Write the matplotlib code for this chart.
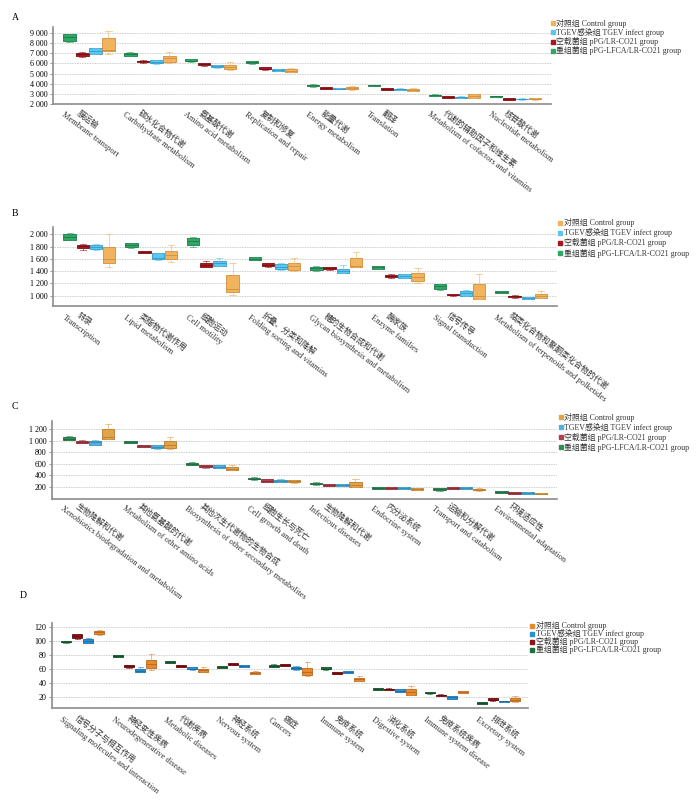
import matplotlib.pyplot as plt
from matplotlib.lines import Line2D

plt.rcParams['font.family'] = ['Liberation Serif', 'Noto Sans CJK SC']

# legend names (order as drawn: green, red, blue, orange)
group_names = ['重组菌组 pPG-LFCA/LR-CO21 group', '空载菌组 pPG/LR-CO21 group',
               'TGEV感染组 TGEV infect group', '对照组 Control group']

# ---- Panel A ----  each entry: (whisker low, q1, median, q3, whisker high)
a_cn = ['膜运输', '碳水化合物代谢', '氨基酸代谢', '复制和修复', '能量代谢', '翻译', '代谢的辅助因子和维生素', '核苷酸代谢']
a_en = ['Membrane transport', 'Carbohydrate metabolism', 'Amino acid metabolism', 'Replication and repair',
        'Energy metabolism', 'Translation', 'Metabolism of cofactors and vitamins', 'Nucleotide metabolism']
a_green = [(8150, 8200, 8550, 8850, 8900), (6700, 6750, 6900, 7050, 7100), (6150, 6200, 6280, 6400, 6450),
           (5950, 6010, 6100, 6200, 6250), (3720, 3760, 3850, 3920, 3950), (3780, 3800, 3850, 3900, 3930),
           (2820, 2840, 2880, 2940, 2960), (2690, 2710, 2770, 2840, 2860)]
a_red = [(6600, 6750, 6900, 7050, 7100), (6080, 6110, 6200, 6265, 6300), (5780, 5815, 5900, 6010, 6050),
         (5380, 5420, 5500, 5620, 5650), (3450, 3470, 3560, 3660, 3680), (3400, 3430, 3500, 3600, 3620),
         (2600, 2620, 2700, 2810, 2830), (2400, 2420, 2500, 2620, 2640)]
a_blue = [(6880, 6920, 7200, 7480, 7520), (5980, 6010, 6150, 6330, 6360), (5600, 5620, 5720, 5840, 5870),
          (5270, 5290, 5380, 5480, 5500), (3450, 3470, 3540, 3620, 3640), (3380, 3400, 3460, 3530, 3550),
          (2600, 2620, 2690, 2750, 2770), (2460, 2480, 2510, 2550, 2570)]
a_orange = [(6950, 7240, 7320, 8480, 9200), (6000, 6170, 6550, 6750, 7085), (5350, 5450, 5650, 5870, 6140),
            (5120, 5160, 5300, 5450, 5550), (3430, 3470, 3580, 3700, 3760), (3330, 3350, 3430, 3530, 3560),
            (2600, 2620, 2800, 2980, 3050), (2460, 2480, 2540, 2620, 2650)]
a_ticks = [2000, 3000, 4000, 5000, 6000, 7000, 8000, 9000]

# ---- Panel B ----
b_cn = ['转录', '类脂物代谢作用', '细胞运动', '折叠、分类和降解', '糖的生物合成和代谢', '酶家族', '信号传导',
        '萜类化合物和聚酮类化合物的代谢']
b_en = ['Transcription', 'Lipid metabolism', 'Cell motility', 'Folding sorting and vitamins',
        'Glycan biosynthesis and metabolism', 'Enzyme families', 'Signal transduction',
        'Metabolism of terpenoids and polketides']
b_green = [(1900, 1910, 1960, 2010, 2025), (1780, 1790, 1820, 1856, 1865), (1800, 1834, 1890, 1945, 1960),
           (1580, 1586, 1605, 1624, 1630), (1400, 1420, 1450, 1475, 1485), (1430, 1440, 1460, 1480, 1490),
           (1100, 1117, 1150, 1183, 1190), (1040, 1044, 1060, 1072, 1078)]
b_red = [(1745, 1773, 1810, 1834, 1845), (1690, 1697, 1710, 1723, 1730), (1460, 1475, 1500, 1541, 1560),
         (1470, 1481, 1500, 1525, 1530), (1425, 1431, 1445, 1465, 1470), (1295, 1304, 1320, 1342, 1350),
         (1000, 1006, 1017, 1028, 1035), (970, 978, 990, 1001, 1005)]
b_blue = [(1740, 1757, 1790, 1834, 1840), (1590, 1597, 1620, 1690, 1700), (1480, 1486, 1530, 1569, 1610),
          (1420, 1431, 1470, 1514, 1525), (1370, 1376, 1410, 1442, 1498), (1285, 1290, 1320, 1347, 1355),
          (995, 1001, 1040, 1084, 1090), (945, 951, 965, 978, 985)]
b_orange = [(1470, 1525, 1597, 1790, 2000), (1545, 1597, 1669, 1735, 1834), (1017, 1061, 1117, 1342, 1541),
            (1400, 1415, 1480, 1541, 1608), (1460, 1470, 1486, 1614, 1707), (1210, 1238, 1310, 1376, 1458),
            (940, 944, 1000, 1195, 1348), (955, 962, 1000, 1028, 1084)]
b_ticks = [1000, 1200, 1400, 1600, 1800, 2000]

# ---- Panel C ----
c_cn = ['生物降解和代谢', '其他氨基酸的代谢', '其他次生代谢物的生物合成', '细胞生长与死亡', '生物降解和代谢',
        '内分泌系统', '运输和分解代谢', '环境适应性']
c_en = ['Xenobiotics biodegradation and metabolism', 'Metabolism of other amino acids',
        'Biosynthesis of other secondary metabolites', 'Cell growth and death', 'Infectious diseases',
        'Endocrine system', 'Transport and catabolism', 'Environmental adaptation']
c_green = [(1010, 1015, 1040, 1067, 1084), (960, 969, 985, 998, 1003), (580, 587, 605, 622, 628),
           (328, 333, 345, 362, 367), (240, 246, 260, 275, 280), (165, 171, 185, 200, 205),
           (137, 142, 160, 177, 182), (97, 102, 115, 131, 135)]
c_red = [(955, 963, 985, 1003, 1010), (895, 900, 915, 928, 933), (535, 541, 560, 576, 580),
         (288, 293, 310, 333, 340), (212, 217, 235, 246, 250), (166, 171, 185, 200, 204),
         (160, 165, 180, 195, 200), (75, 79, 95, 108, 112)]
c_blue = [(925, 934, 975, 1003, 1010), (862, 870, 900, 928, 935), (530, 535, 555, 576, 580),
          (288, 293, 310, 327, 332), (215, 220, 240, 252, 256), (166, 171, 185, 200, 204),
          (160, 165, 180, 195, 200), (75, 80, 95, 110, 114)]
c_orange = [(1030, 1038, 1060, 1200, 1287), (853, 870, 935, 992, 1073), (490, 495, 520, 547, 582),
            (276, 281, 300, 316, 320), (200, 206, 240, 287, 333), (144, 148, 165, 183, 187),
            (138, 142, 155, 171, 175), (70, 73, 85, 96, 100)]
c_ticks = [200, 400, 600, 800, 1000, 1200]

# ---- Panel D ----
d_cn = ['信号分子与相互作用', '神经变性疾病', '代谢疾病', '神经系统', '癌症', '免疫系统', '消化系统',
        '免疫系统疾病', '排泄系统']
d_en = ['Signaling molecules and interaction', 'Neurodegenerative disease', 'Metabolic diseases',
        'Nervous system', 'Cancers', 'Immune system', 'Digestive system', 'Immune system disease',
        'Excretory system']
d_green = [(98, 98.5, 99.5, 100.4, 101), (77.5, 77.9, 79, 80.3, 80.8), (69, 69.3, 71, 72.1, 72.5),
           (61.2, 61.6, 63, 64.5, 65), (63, 63.5, 65, 66.4, 67), (59.3, 59.7, 61, 62.6, 63),
           (30.2, 30.5, 31.8, 32.9, 33.3), (25, 25.3, 26.5, 27.6, 28), (10, 10.4, 11.6, 12.9, 13.3)]
d_red = [(104, 105.6, 108, 110.4, 111), (62.2, 62.6, 64, 65.5, 66), (62.6, 63, 65, 66.4, 66.8),
         (66, 66.4, 67.5, 68.8, 69.2), (64, 64.5, 66, 67.4, 67.8), (52.6, 53, 54.5, 56.4, 56.8),
         (30.2, 30.5, 31.5, 32.4, 32.8), (21, 21.4, 22.5, 23.8, 24.2), (15, 15.3, 16.5, 18.3, 18.8)]
d_blue = [(97.5, 98, 100.9, 102.8, 105), (55.5, 55.9, 58, 61.1, 63), (59.3, 59.7, 61, 62.6, 63),
          (62.6, 63, 64.5, 66.4, 66.8), (59.3, 59.7, 61.5, 63.5, 64), (54.5, 54.9, 56, 57.3, 57.7),
          (26.8, 27.2, 29, 31, 31.4), (17.6, 18, 20, 21.4, 21.8), (13.4, 13.7, 14.2, 14.7, 15)]
d_orange = [(109.5, 110, 112.8, 115.2, 116.2), (58.8, 62.1, 67.4, 73.1, 81.7), (56.4, 56.8, 59, 61.1, 63),
            (53.1, 53.5, 55, 56.8, 57.2), (50.6, 51.6, 56.4, 62.1, 70.7), (42.6, 43, 45.5, 48.2, 50.1),
            (22.9, 23.8, 28, 32, 36.3), (25.8, 26.2, 27.5, 28.6, 29), (13.5, 14, 16, 18.8, 21)]
d_ticks = [20, 40, 60, 80, 100, 120]

# colours per panel: (fill, edge) for green, red, blue, orange
pal_ab = [('#2fa867', '#1d7a47'), ('#a8171d', '#7a0f14'), ('#5cc6ef', '#2f9ccb'), ('#f2b35f', '#d08e3c')]
pal_c = [('#2e8b57', '#1f6a40'), ('#b0404c', '#8a2a34'), ('#52b0dc', '#2f8cbb'), ('#e3a349', '#b97a2a')]
pal_d = [('#1f6f3d', '#134a28'), ('#8e1417', '#5e0b0d'), ('#2a8fd3', '#1a6ca6'), ('#e8892d', '#b8661b')]
offsets = [-0.32, -0.107, 0.107, 0.32]
ROT = -37


def fmt(v):
    return f'{v:,}'.replace(',', ' ')


def draw_panel(rect, letter, letter_xy, cn, en, series, pal, ylim, ticks, xmax, leg_xy, leg_step, lab_drop):
    ax = fig.add_axes(rect)
    ax.patch.set_alpha(0)
    for i, (data, (fc, ec)) in enumerate(zip(series, pal)):
        stats = [dict(whislo=s[0], q1=s[1], med=s[2], q3=s[3], whishi=s[4], fliers=[]) for s in data]
        pos = [k + offsets[i] for k in range(len(data))]
        ax.bxp(stats, positions=pos, widths=0.2, patch_artist=True, showfliers=False,
               boxprops=dict(facecolor=fc, edgecolor=ec, linewidth=0.6),
               medianprops=dict(color=ec, linewidth=0.6),
               whiskerprops=dict(color=fc, linewidth=0.6, alpha=0.7),
               capprops=dict(color=fc, linewidth=0.6, alpha=0.7),
               manage_ticks=False, zorder=3)
    ax.set_xlim(-0.59, xmax)
    ax.set_ylim(*ylim)
    ax.set_yticks(ticks)
    ax.set_yticklabels([fmt(t) for t in ticks], fontsize=5.8)
    ax.set_xticks([])
    ax.grid(axis='y', color='#bbbbbb', linestyle=(0, (1, 1)), linewidth=0.6, zorder=0)
    for s in ['top', 'right']:
        ax.spines[s].set_visible(False)
    for s in ['left', 'bottom']:
        ax.spines[s].set_color('#8c8c8c')
        ax.spines[s].set_linewidth(1.2)
    ax.tick_params(axis='y', length=2, width=0.6, color='#8c8c8c', pad=2)
    # two-line rotated category labels: english line, chinese line above-right of it
    for k in range(len(en)):
        ax.annotate(en[k], xy=(k - 0.45, ylim[0]), xycoords='data', xytext=(0, -lab_drop),
                    textcoords='offset points', rotation=ROT, rotation_mode='anchor',
                    ha='left', va='baseline', fontsize=6, color='#333333', annotation_clip=False)
        ax.annotate(cn[k], xy=(k - 0.45, ylim[0]), xycoords='data', xytext=(10.7, -lab_drop + 1.0),
                    textcoords='offset points', rotation=ROT, rotation_mode='anchor',
                    ha='left', va='baseline', fontsize=5.9, color='#333333', annotation_clip=False)
    fig.text(letter_xy[0] / 700, 1 - letter_xy[1] / 811, letter, fontsize=7, ha='left', va='center')
    # legend
    for n, j in enumerate([3, 2, 1, 0]):
        y = 1 - (leg_xy[1] + n * leg_step) / 811
        fig.add_artist(Line2D([leg_xy[0] / 700], [y], marker='s', color=pal[j][0], ls='none',
                              markersize=2.2, transform=fig.transFigure))
        fig.text((leg_xy[0] + 3.5) / 700, y, group_names[j], fontsize=5.7, color='#333333',
                 ha='left', va='center')
    return ax


fig = plt.figure(figsize=(7, 8.11), dpi=100)

draw_panel([53 / 700, 1 - 104.3 / 811, 498 / 700, 77.6 / 811], 'A', (12, 18), a_cn, a_en,
           [a_green, a_red, a_blue, a_orange], pal_ab, (2000, 9600), a_ticks, 7.58, (553, 23), 9.3, 8.0)
draw_panel([53 / 700, 1 - 305.5 / 811, 504 / 700, 78.5 / 811], 'B', (12, 213), b_cn, b_en,
           [b_green, b_red, b_blue, b_orange], pal_ab, (840, 2120), b_ticks, 7.58, (560, 222.7), 10.1, 9.0)
draw_panel([52 / 700, 1 - 498.5 / 811, 505 / 700, 77.5 / 811], 'C', (12, 406), c_cn, c_en,
           [c_green, c_red, c_blue, c_orange], pal_c, (0, 1345), c_ticks, 7.58, (561, 417), 10, 7.5)
draw_panel([52 / 700, 1 - 708.3 / 811, 476 / 700, 85 / 811], 'D', (20, 596), d_cn, d_en,
           [d_green, d_red, d_blue, d_orange], pal_d, (4, 126), d_ticks, 8.57, (532, 625.7), 8.1, 9.0)

fig.savefig('out.png', dpi=100)
